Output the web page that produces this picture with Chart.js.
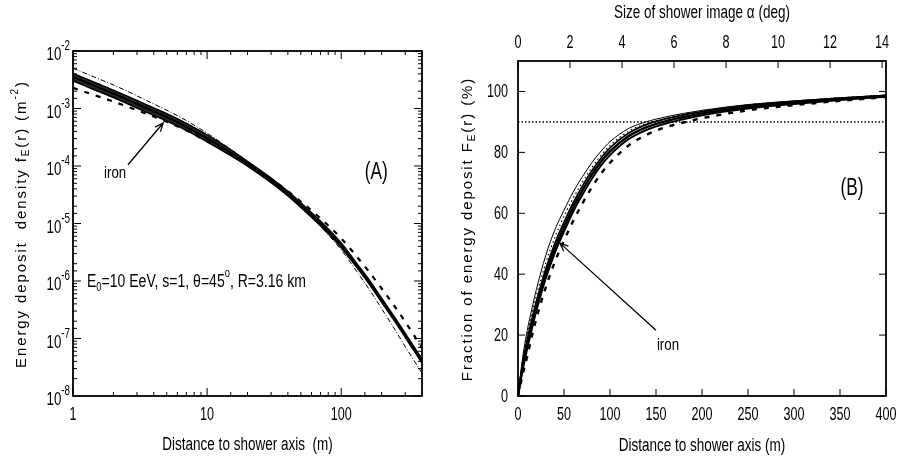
<!DOCTYPE html>
<html>
<head>
<meta charset="utf-8">
<script src="https://cdn.jsdelivr.net/npm/chart.js@4.4.1/dist/chart.umd.min.js"></script>
<style>
html, body { margin: 0; padding: 0; background: #fff; }
#wrap { position: relative; width: 899px; height: 463px; }
canvas { position: absolute; top: 0; }
#densCanvas { left: 0; }
#fracCanvas { left: 440px; }
</style>
</head>
<body>
<div id="wrap">
    <canvas id="densCanvas" width="440" height="463"></canvas>
    <canvas id="fracCanvas" width="459" height="463"></canvas>
</div>
<script>
// (A) lateral energy deposit density, r in m, f_E in m^-2
const DENS_R = [1, 1.5, 2, 3, 4, 5, 7, 10, 15, 20, 30, 40, 50, 70, 100, 130, 160, 200, 250, 300, 350, 400];
const DENS_BAND_HI = [4.07e-3, 2.75e-3, 2.09e-3, 1.38e-3, 1.02e-3, 8.13e-4, 5.50e-4, 3.47e-4, 1.91e-4, 1.20e-4, 6.17e-5, 3.63e-5, 2.29e-5, 1.10e-5, 4.57e-6, 2.04e-6, 1.07e-6, 5.01e-7, 2.34e-7, 1.23e-7, 7.08e-8, 4.37e-8];
const DENS_BAND_MID = [3.55e-3, 2.40e-3, 1.82e-3, 1.20e-3, 8.91e-4, 7.08e-4, 4.79e-4, 3.02e-4, 1.70e-4, 1.10e-4, 5.62e-5, 3.31e-5, 2.09e-5, 1.00e-5, 4.17e-6, 1.91e-6, 1.00e-6, 4.68e-7, 2.19e-7, 1.15e-7, 6.61e-8, 4.07e-8];
const DENS_BAND_LO = [3.02e-3, 2.04e-3, 1.55e-3, 1.02e-3, 7.59e-4, 6.03e-4, 4.17e-4, 2.63e-4, 1.51e-4, 1.00e-4, 5.13e-5, 3.02e-5, 1.91e-5, 9.12e-6, 3.80e-6, 1.74e-6, 9.12e-7, 4.27e-7, 2.00e-7, 1.05e-7, 6.03e-8, 3.72e-8];
const DENS_DASHDOT = [5.01e-3, 3.39e-3, 2.57e-3, 1.66e-3, 1.20e-3, 9.33e-4, 6.17e-4, 3.72e-4, 1.95e-4, 1.20e-4, 5.75e-5, 3.24e-5, 1.95e-5, 8.91e-6, 3.47e-6, 1.48e-6, 7.41e-7, 3.31e-7, 1.45e-7, 7.24e-8, 4.07e-8, 2.51e-8];
const DENS_IRON = [2.29e-3, 1.66e-3, 1.32e-3, 9.33e-4, 7.24e-4, 5.89e-4, 4.17e-4, 2.69e-4, 1.62e-4, 1.10e-4, 5.89e-5, 3.63e-5, 2.40e-5, 1.23e-5, 5.50e-6, 2.69e-6, 1.48e-6, 7.41e-7, 3.63e-7, 1.95e-7, 1.12e-7, 6.92e-8];
const DENS_X_LABELS = [1, 10, 100];
const DENS_Y_DECADES = [-2, -3, -4, -5, -6, -7, -8];

// (B) integrated fraction F_E(r) in %
const FRAC_R = [0, 5, 10, 15, 20, 30, 40, 50, 60, 70, 80, 90, 100, 120, 140, 160, 180, 200, 250, 300, 350, 400];
const FRAC_OUTER = [0, 12.5, 21.5, 28.5, 35, 46, 54.5, 61, 67, 72, 76.5, 80.3, 83.5, 87.8, 90.1, 91.6, 92.8, 93.8, 95.7, 96.9, 97.9, 98.8];
const FRAC_DOTTED = [0, 11.5, 20, 26.8, 33, 43.5, 52, 59, 65, 70.2, 74.9, 78.9, 82.2, 86.9, 89.5, 91.1, 92.5, 93.6, 95.6, 96.8, 97.9, 98.7];
const FRAC_BAND_HI = [0, 10.5, 18.5, 25, 31, 41.5, 50, 57, 63.4, 68.9, 73.8, 78, 81.5, 86.3, 89.2, 91.0, 92.3, 93.4, 95.4, 96.7, 97.8, 98.7];
const FRAC_BAND_MID = [0, 9.5, 17, 23.5, 29.5, 40, 48.5, 55.5, 62, 67.5, 72.5, 76.8, 80.3, 85.3, 88.3, 90.2, 91.6, 92.8, 94.9, 96.3, 97.5, 98.5];
const FRAC_BAND_LO = [0, 8.5, 15.5, 22, 28, 38.5, 47, 54, 60.6, 66.1, 71.2, 75.6, 79.1, 84.3, 87.4, 89.4, 90.9, 92.2, 94.4, 95.9, 97.2, 98.3];
const FRAC_IRON = [0, 7, 13, 19.5, 25.5, 35.5, 44, 51, 57.5, 63.2, 68.4, 72.9, 76.6, 82.2, 85.8, 88.2, 89.8, 91.2, 93.8, 95.5, 96.9, 98.2];
const FRAC_LEVEL = 90;
const FRAC_X_TICKS = [0, 50, 100, 150, 200, 250, 300, 350, 400];
const FRAC_Y_TICKS = [0, 20, 40, 60, 80, 100];
const ANGLE_TICKS = [0, 2, 4, 6, 8, 10, 12, 14];
const ANGLE_MAX = 14.15;

const FONT = '"Liberation Sans", Arial, sans-serif';

function isDecade(v) {
    const l = Math.log10(v);
    return Math.abs(l - Math.round(l)) < 1e-9;
}

function toPoints(xs, ys) {
    return xs.map((x, i) => ({ x, y: ys[i] }));
}

function line(data, width, dash) {
    return {
        data,
        borderColor: '#000',
        borderWidth: width,
        borderDash: dash || [],
        pointRadius: 0,
        fill: false,
        cubicInterpolationMode: 'monotone'
    };
}

// text with sub/superscripts, parts = [[text, 'sub'|'sup'|undefined], ...]
function drawRich(ctx, parts, x, y, opt) {
    const { align = 'left', size, squeeze = 1, spacing = 0, ratio = 0.68 } = opt;
    const small = Math.round(size * ratio);
    const runs = parts.map(([t, kind]) => {
        const fs = kind ? small : size;
        ctx.font = `${fs}px ${FONT}`;
        const w = spacing
            ? [...t].reduce((s, ch) => s + ctx.measureText(ch).width + spacing, 0)
            : ctx.measureText(t).width;
        return { t, kind, fs, w };
    });
    const total = runs.reduce((s, r) => s + r.w, 0);
    let cx = align === 'center' ? -total / 2 : align === 'right' ? -total : 0;
    ctx.save();
    ctx.translate(x, y);
    ctx.scale(squeeze, 1);
    ctx.textAlign = 'left';
    ctx.textBaseline = 'middle';
    runs.forEach(r => {
        ctx.font = `${r.fs}px ${FONT}`;
        const dy = r.kind === 'sup' ? -size * 0.45 : r.kind === 'sub' ? size * 0.3 : 0;
        if (spacing) {
            [...r.t].forEach(ch => {
                ctx.fillText(ch, cx, dy);
                cx += ctx.measureText(ch).width + spacing;
            });
        } else {
            ctx.fillText(r.t, cx, dy);
            cx += r.w;
        }
    });
    ctx.restore();
}

function drawArrow(ctx, x1, y1, x2, y2) {
    const ang = Math.atan2(y2 - y1, x2 - x1);
    const head = 9;
    ctx.beginPath();
    ctx.moveTo(x1, y1);
    ctx.lineTo(x2, y2);
    ctx.moveTo(x2 - head * Math.cos(ang - 0.4), y2 - head * Math.sin(ang - 0.4));
    ctx.lineTo(x2, y2);
    ctx.lineTo(x2 - head * Math.cos(ang + 0.4), y2 - head * Math.sin(ang + 0.4));
    ctx.stroke();
}

const TICK_TEXT = { size: 18, squeeze: 0.7, align: 'center' };
const TITLE_TEXT = { size: 18, squeeze: 0.75, align: 'center' };
const YTITLE_TEXT = { size: 15, spacing: 1.9, align: 'center' };

const densDecor = {
    id: 'densDecor',
    afterDraw(chart) {
        const ctx = chart.ctx;
        const a = chart.chartArea;
        const sx = chart.scales.x;
        const sy = chart.scales.y;
        ctx.save();
        ctx.strokeStyle = '#000';
        ctx.fillStyle = '#000';
        ctx.lineWidth = 1;
        sx.ticks.forEach(t => {
            const px = sx.getPixelForValue(t.value);
            const len = isDecade(t.value) ? 8 : 4;
            ctx.beginPath();
            ctx.moveTo(px, a.bottom); ctx.lineTo(px, a.bottom - len);
            ctx.moveTo(px, a.top); ctx.lineTo(px, a.top + len);
            ctx.stroke();
        });
        sy.ticks.forEach(t => {
            const py = sy.getPixelForValue(t.value);
            const len = isDecade(t.value) ? 8 : 4;
            ctx.beginPath();
            ctx.moveTo(a.left, py); ctx.lineTo(a.left + len, py);
            ctx.moveTo(a.right, py); ctx.lineTo(a.right - len, py);
            ctx.stroke();
        });
        ctx.lineWidth = 1.8;
        ctx.strokeRect(a.left, a.top, a.right - a.left, a.bottom - a.top);

        DENS_X_LABELS.forEach(v => {
            drawRich(ctx, [[String(v)]], sx.getPixelForValue(v), a.bottom + 19, TICK_TEXT);
        });
        DENS_Y_DECADES.forEach(d => {
            const py = sy.getPixelForValue(Math.pow(10, d));
            drawRich(ctx, [['10'], [String(d), 'sup']], a.left - 3, py + 4,
                { size: 19, squeeze: 0.7, align: 'right', ratio: 0.74 });
        });
        drawRich(ctx, [['Distance to shower axis  (m)']], (a.left + a.right) / 2, 445, TITLE_TEXT);

        ctx.save();
        ctx.translate(22, 224);
        ctx.rotate(-Math.PI / 2);
        drawRich(ctx, [['Energy deposit  density f'], ['E', 'sub'], ['(r) (m'], ['-2', 'sup'], [')']], 0, 0, YTITLE_TEXT);
        ctx.restore();

        drawRich(ctx, [['E'], ['0', 'sub'], ['=10 EeV, s=1, \u03b8=45'], ['o', 'sup'], [', R=3.16 km']],
            sx.getPixelForValue(1.27), sy.getPixelForValue(9.6e-7), { size: 18, squeeze: 0.78 });
        drawRich(ctx, [['(A)']], sx.getPixelForValue(182), sy.getPixelForValue(7.6e-5), { size: 23, squeeze: 0.75, align: 'center' });
        drawRich(ctx, [['iron']], sx.getPixelForValue(2.06), sy.getPixelForValue(7.6e-5), { size: 17, squeeze: 0.78, align: 'center' });
        ctx.lineWidth = 1.3;
        drawArrow(ctx, sx.getPixelForValue(2.57), sy.getPixelForValue(1.05e-4),
            sx.getPixelForValue(4.7), sy.getPixelForValue(5.6e-4));
        ctx.restore();
    }
};

const fracDecor = {
    id: 'fracDecor',
    afterDraw(chart) {
        const ctx = chart.ctx;
        const a = chart.chartArea;
        const sx = chart.scales.x;
        const sx2 = chart.scales.x2;
        const sy = chart.scales.y;
        ctx.save();
        ctx.strokeStyle = '#000';
        ctx.fillStyle = '#000';
        ctx.lineWidth = 1;
        sx.ticks.forEach(t => {
            const px = sx.getPixelForValue(t.value);
            ctx.beginPath();
            ctx.moveTo(px, a.bottom); ctx.lineTo(px, a.bottom - 7);
            ctx.stroke();
            drawRich(ctx, [[String(t.value)]], px, a.bottom + 19, TICK_TEXT);
        });
        sx2.ticks.forEach(t => {
            const px = sx2.getPixelForValue(t.value);
            ctx.beginPath();
            ctx.moveTo(px, a.top); ctx.lineTo(px, a.top + 7);
            ctx.stroke();
            drawRich(ctx, [[String(t.value)]], px, a.top - 18, TICK_TEXT);
        });
        sy.ticks.forEach(t => {
            const py = sy.getPixelForValue(t.value);
            ctx.beginPath();
            ctx.moveTo(a.left, py); ctx.lineTo(a.left + 7, py);
            ctx.moveTo(a.right, py); ctx.lineTo(a.right - 7, py);
            ctx.stroke();
            drawRich(ctx, [[String(t.value)]], a.left - 10, py + 1, { ...TICK_TEXT, align: 'right' });
        });
        ctx.lineWidth = 1.8;
        ctx.strokeRect(a.left, a.top, a.right - a.left, a.bottom - a.top);

        const midX = (a.left + a.right) / 2;
        drawRich(ctx, [['Distance to shower axis (m)']], midX, 446, TITLE_TEXT);
        drawRich(ctx, [['Size of shower image \u03b1 (deg)']], midX, 13, TITLE_TEXT);

        ctx.save();
        ctx.translate(28, 229);
        ctx.rotate(-Math.PI / 2);
        drawRich(ctx, [['Fraction of energy deposit F'], ['E', 'sub'], ['(r) (%)']], 0, 0, YTITLE_TEXT);
        ctx.restore();

        drawRich(ctx, [['(B)']], sx.getPixelForValue(363), sy.getPixelForValue(68.2), { size: 23, squeeze: 0.75, align: 'center' });
        drawRich(ctx, [['iron']], sx.getPixelForValue(163), sy.getPixelForValue(16.7), { size: 17, squeeze: 0.78, align: 'center' });
        ctx.lineWidth = 1.3;
        drawArrow(ctx, sx.getPixelForValue(150), sy.getPixelForValue(21.6),
            sx.getPixelForValue(45.6), sy.getPixelForValue(50.2));
        ctx.restore();
    }
};

const hiddenAxis = {
    grid: { display: false, drawTicks: false },
    border: { display: false },
    ticks: { display: false }
};

const densBandHi = line(toPoints(DENS_R, DENS_BAND_HI), 1.5);
const densBandLo = Object.assign(line(toPoints(DENS_R, DENS_BAND_LO), 1.5), {
    fill: 0,
    backgroundColor: 'rgba(0,0,0,0.85)'
});

new Chart(document.getElementById('densCanvas'), {
    type: 'line',
    data: {
        datasets: [
            densBandHi,
            densBandLo,
            line(toPoints(DENS_R, DENS_BAND_MID), 2),
            line(toPoints(DENS_R, DENS_DASHDOT), 1, [5, 2, 1, 2]),
            line(toPoints(DENS_R, DENS_IRON), 2.2, [5, 7])
        ]
    },
    options: {
        responsive: false,
        animation: false,
        devicePixelRatio: 1,
        layout: { padding: { top: 51, right: 18, left: 0, bottom: 0 } },
        plugins: { legend: { display: false }, tooltip: { enabled: false } },
        scales: {
            x: {
                ...hiddenAxis,
                type: 'logarithmic',
                min: 1,
                max: 400,
                afterFit(s) { s.height = 67; }
            },
            y: {
                ...hiddenAxis,
                type: 'logarithmic',
                min: 1e-8,
                max: 1e-2,
                afterFit(s) { s.width = 73; }
            }
        }
    },
    plugins: [densDecor]
});

new Chart(document.getElementById('fracCanvas'), {
    type: 'line',
    data: {
        datasets: [
            line(toPoints([0, 400], [FRAC_LEVEL, FRAC_LEVEL]), 1.5, [1.5, 2]),
            line(toPoints(FRAC_R, FRAC_OUTER), 1),
            line(toPoints(FRAC_R, FRAC_DOTTED), 1.2, [1.5, 3]),
            line(toPoints(FRAC_R, FRAC_BAND_HI), 1.8),
            line(toPoints(FRAC_R, FRAC_BAND_MID), 2.4),
            line(toPoints(FRAC_R, FRAC_BAND_LO), 2),
            line(toPoints(FRAC_R, FRAC_IRON), 2.4, [5, 7])
        ]
    },
    options: {
        responsive: false,
        animation: false,
        devicePixelRatio: 1,
        layout: { padding: { top: 0, right: 13, left: 0, bottom: 0 } },
        plugins: { legend: { display: false }, tooltip: { enabled: false } },
        scales: {
            x: {
                ...hiddenAxis,
                type: 'linear',
                min: 0,
                max: 400,
                afterBuildTicks(s) { s.ticks = FRAC_X_TICKS.map(value => ({ value })); },
                afterFit(s) { s.height = 67; }
            },
            x2: {
                ...hiddenAxis,
                type: 'linear',
                position: 'top',
                min: 0,
                max: ANGLE_MAX,
                afterBuildTicks(s) { s.ticks = ANGLE_TICKS.map(value => ({ value })); },
                afterFit(s) { s.height = 61; }
            },
            y: {
                ...hiddenAxis,
                type: 'linear',
                min: 0,
                max: 110,
                afterBuildTicks(s) { s.ticks = FRAC_Y_TICKS.map(value => ({ value })); },
                afterFit(s) { s.width = 78; }
            }
        }
    },
    plugins: [fracDecor]
});
</script>
</body>
</html>
